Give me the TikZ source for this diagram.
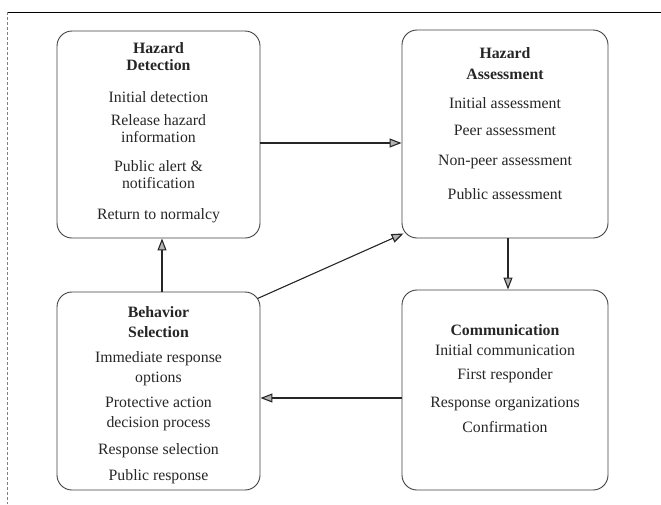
\documentclass[tikz,border=0pt]{standalone}
\usepackage{fontspec}
\setmainfont{Liberation Serif}
\usetikzlibrary{arrows.meta,calc}
\begin{document}
\begin{tikzpicture}[x=1pt,y=-1pt,
  box/.style={draw=black!75,line width=0.9pt,rounded corners=15pt,inner sep=0pt},
  txt/.style={align=center,inner sep=0pt,anchor=north,font=\fontsize{15.8}{17.5}\selectfont,text=black!85},
  arr/.style={line width=1.1pt,draw=black!85,-{Triangle[length=12pt,width=9pt,fill=black!30]}}]
\useasboundingbox (0,0) rectangle (661,504);
\draw[line width=1pt] (7,12) -- (661,12);
\draw[black!50,densely dashed,line width=0.6pt] (7,12) -- (7,504);
% boxes
\node[box,minimum width=203pt,minimum height=207pt] (hd) at (158.5,134.5) {};
\node[box,minimum width=206pt,minimum height=208pt] (ha) at (505,134) {};
\node[box,minimum width=203pt,minimum height=198pt] (bs) at (158.5,391) {};
\node[box,minimum width=206pt,minimum height=200pt] (comm) at (505,390) {};
% texts
\node[txt] (hdt) at (158.5,42) {\textbf{Hazard}\\[-0.5pt]\textbf{Detection}\\[14.5pt]Initial detection\\[5.5pt]Release hazard\\[-0.5pt]information\\[11.5pt]Public alert \&\\[-0.5pt]notification\\[13.5pt]Return to normalcy};
\node[txt] (hat) at (505,47) {\textbf{Hazard}\\[3.5pt]\textbf{Assessment}\\[11.5pt]Initial assessment\\[9.5pt]Peer assessment\\[12.5pt]Non-peer assessment\\[16.5pt]Public assessment};
\node[txt] (bst) at (158.5,306) {\textbf{Behavior}\\[2.5pt]\textbf{Selection}\\[7.5pt]Immediate response\\[2.5pt]options\\[7.5pt]Protective action\\[2.5pt]decision process\\[9.5pt]Response selection\\[8.5pt]Public response};
\node[txt] (commt) at (505,324) {\textbf{Communication}\\[2.5pt]Initial communication\\[6.5pt]First responder\\[10.5pt]Response organizations\\[7.5pt]Confirmation};
% connectors
\coordinate (y1) at (0,143);
\draw[arr] (hd.east |- y1) -- (ha.west |- y1);
\coordinate (x1) at (162,0);
\draw[arr] (bs.north -| x1) -- (hd.south -| x1);
\draw[arr] ($(bs.north east)+(-3,7)$) -- ($(ha.south west)+(2,-5)$);
\coordinate (x2) at (508,0);
\draw[arr] (ha.south -| x2) -- (comm.north -| x2);
\coordinate (y2) at (0,398);
\draw[arr] (comm.west |- y2) -- (bs.east |- y2);
\end{tikzpicture}
\end{document}
